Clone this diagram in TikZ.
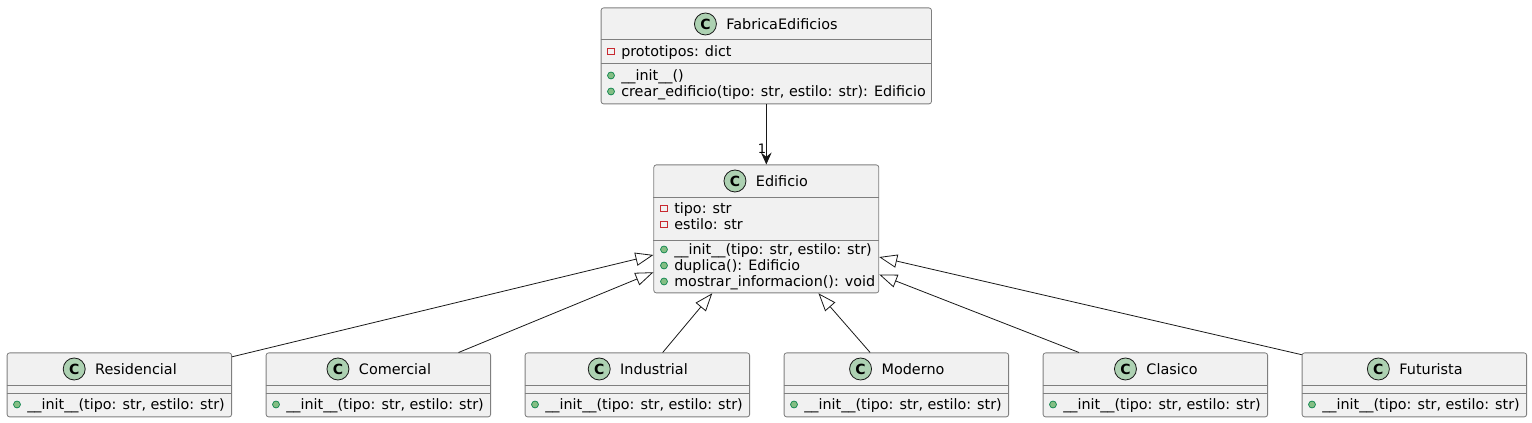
\documentclass[tikz,border=0pt]{standalone}
\usepackage{fontspec}
\setmainfont{DejaVu Sans}
\usetikzlibrary{arrows.meta,positioning}
\definecolor{boxfill}{HTML}{F1F1F1}
\definecolor{boxline}{HTML}{7F7F7F}
\definecolor{inkline}{HTML}{181818}
\definecolor{iconfill}{HTML}{ADD1B2}
\definecolor{pubfill}{HTML}{84BE84}
\definecolor{publine}{HTML}{038048}
\definecolor{privline}{HTML}{C82930}
\tikzset{
  classbox/.style={draw=boxline, fill=boxfill, line width=0.6pt, rounded corners=1.9pt, inner sep=0pt, anchor=north west},
  sepline/.style={draw=boxline, line width=0.6pt},
  classname/.style={font=\fontsize{10.8}{12}\selectfont, inner sep=0pt, text=black},
  classicon/.style={circle, draw=inkline, fill=iconfill, line width=0.6pt, minimum size=16.5pt, inner sep=0pt, font=\fontsize{10.5}{12}\selectfont\bfseries},
  member/.style={font=\fontsize{10.75}{12}\selectfont, inner sep=0pt, anchor=base west, text=black},
  pubmark/.style={circle, draw=publine, fill=pubfill, line width=0.5pt, minimum size=5.2pt, inner sep=0pt},
  privmark/.style={rectangle, draw=privline, fill=boxfill, line width=0.6pt, minimum size=5pt, inner sep=0pt},
  inherit/.style={draw=inkline, line width=0.6pt, {Triangle[open,fill=white,length=13.5pt,width=10pt]}-},
  uses/.style={draw=inkline, line width=0.75pt, -{Stealth[inset=3.2pt,length=9pt,width=8pt]}},
}
\newcommand{\pubrow}[4]{%
  \node[member] (#1) at (#2,#3) {#4};
  \node[pubmark] (#1mark) at (#2-10,#3-5) {};
}
\newcommand{\privrow}[4]{%
  \node[member] (#1) at (#2,#3) {#4};
  \node[privmark] (#1mark) at (#2-10,#3-5) {};
}
\begin{document}
\begin{tikzpicture}[x=0.75pt, y=-0.75pt]
  \useasboundingbox (0,0) rectangle (1532,423);

  \node[classbox, minimum width=247.8pt, minimum height=72pt] (fabrica) at (600.7,7.5) {};
  \node[classname] (fabricaname) at (782,24) {FabricaEdificios};
  \node[classicon, left=7pt of fabricaname] (fabricaicon) {C};
  \draw[sepline] (fabrica.west |- 0,39) -- (fabrica.east |- 0,39);
  \draw[sepline] (fabrica.west |- 0,63) -- (fabrica.east |- 0,63);
  \privrow{prototipos}{621}{56.5}{prototipos: dict}
  \pubrow{fabricainit}{621}{80.5}{\_\_init\_\_()}
  \pubrow{crear}{621}{96.5}{crear\_edificio(tipo: str, estilo: str): Edificio}

  \node[classbox, minimum width=168.75pt, minimum height=96pt] (edificio) at (653.4,164.5) {};
  \node[classname] (edificioname) at (782,181) {Edificio};
  \node[classicon, left=7pt of edificioname] (edificioicon) {C};
  \draw[sepline] (edificio.west |- 0,197) -- (edificio.east |- 0,197);
  \draw[sepline] (edificio.west |- 0,240) -- (edificio.east |- 0,240);
  \privrow{tipo}{674}{213.5}{tipo: str}
  \privrow{estilo}{674}{229.5}{estilo: str}
  \pubrow{edificioinit}{674}{254.5}{\_\_init\_\_(tipo: str, estilo: str)}
  \pubrow{duplica}{674}{270.5}{duplica(): Edificio}
  \pubrow{mostrar}{674}{286.5}{mostrar\_informacion(): void}

  \foreach \bx/\bname/\btitle/\bang/\tang in {
    7/residencial/Residencial/14/193.6,
    266/comercial/Comercial/22.6/201.4,
    525/industrial/Industrial/52/230.4,
    784/moderno/Moderno/129/309.6,
    1043/clasico/Clasico/157.7/338.6,
    1302/futurista/Futurista/165.8/346.4} {
    \node[classbox, minimum width=168.4pt, minimum height=48pt] (\bname) at (\bx-0.3,352.5) {};
    \node[classname] (\bname name) at (\bx+129,369) {\btitle};
    \node[classicon, left=7pt of \bname name] (\bname icon) {C};
    \draw[sepline] (\bname.west |- 0,385) -- (\bname.east |- 0,385);
    \draw[sepline] (\bname.west |- 0,393) -- (\bname.east |- 0,393);
    \pubrow{\bname init}{\bx+20}{409.5}{\_\_init\_\_(tipo: str, estilo: str)}
    \draw[inherit] (edificio.\tang) -- (\bname.\bang);
  }

  \draw[uses] (fabrica.south) -- (edificio.north);
  \node[font=\fontsize{9.75}{12}\selectfont, inner sep=0pt] (mult) at (762,149) {1};
\end{tikzpicture}
\end{document}
